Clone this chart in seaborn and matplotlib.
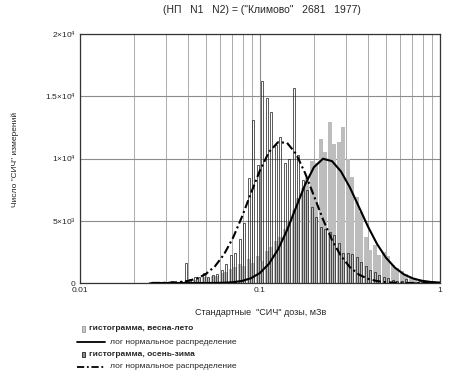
import numpy as np
import matplotlib
matplotlib.use('Agg')
import matplotlib.pyplot as plt
from matplotlib.ticker import LogLocator, NullFormatter
from matplotlib.lines import Line2D
from matplotlib.patches import Rectangle
import seaborn as sns

# histogram bins: equal steps in log10(dose), from 10^-1.7 to 10^0
bin_lo, bin_hi, n_bins = -1.7, 0.0, 68

# counts per bin, spring-summer (light gray bars)
counts_spring = [0, 0, 0, 0, 0, 0, 0, 50, 0, 80,
                 100, 150, 200, 250, 400, 450, 400, 550, 600, 800,
                 900, 1100, 1300, 1500, 1400, 1900, 1600, 2200, 1800, 2600,
                 2900, 3400, 3700, 4300, 5000, 5900, 6800, 7600, 8400, 9800,
                 9600, 11560, 10500, 12930, 11160, 11320, 12530, 9960, 8500, 6900,
                 5700, 3700, 2650, 3050, 2250, 2500, 2200, 1450, 1200, 1000,
                 700, 400, 300, 240, 200, 150, 150, 100]

# counts per bin, autumn-winter (outlined bars)
counts_autumn = [0, 0, 0, 50, 0, 80, 100, 80, 150, 120,
                 200, 1600, 300, 480, 500, 800, 500, 640, 700, 1040,
                 1500, 2250, 2400, 3500, 4800, 8400, 13100, 9500, 16200, 14900,
                 13700, 11100, 11700, 9600, 10000, 15700, 10300, 8300, 7500, 6100,
                 5300, 4500, 4300, 4100, 3850, 3200, 2400, 2400, 2300, 2100,
                 1700, 1400, 1040, 900, 640, 500, 400, 240, 200, 150,
                 300, 100, 80, 150, 60, 50, 100, 40]

# log-normal fits
curve_dose = [0.0251, 0.0282, 0.0316, 0.0355, 0.0398, 0.0447, 0.0501, 0.0562,
              0.0631, 0.0708, 0.0794, 0.0891, 0.1, 0.1122, 0.1259, 0.1413,
              0.1585, 0.1778, 0.1995, 0.2239, 0.2512, 0.2818, 0.3162, 0.3548,
              0.3981, 0.4467, 0.5012, 0.5623, 0.6310, 0.7079, 0.7943, 0.8913, 1.0]
curve_spring = [0, 0, 0, 0, 0, 0, 2, 7,
                23, 65, 166, 385, 810, 1550, 2690, 4240,
                6070, 7880, 9310, 9980, 9790, 8960, 7660, 6100,
                4530, 3140, 2030, 1230, 690, 365, 180, 82, 35]
curve_autumn = [4, 10, 29, 73, 171, 367, 730, 1340,
                2300, 3630, 5320, 7220, 9060, 10520, 11310, 11260,
                10380, 8850, 6990, 5110, 3450, 2170, 1260, 675,
                335, 155, 65, 26, 9, 3, 1, 0, 0]

y_ticks = [0, 5000, 10000, 15000, 20000]
y_labels = ['0', r'$5{\times}10^3$', r'$1{\times}10^4$', r'$1.5{\times}10^4$', r'$2{\times}10^4$']
x_ticks = [0.01, 0.1, 1]
x_labels = ['0.01', '0.1', '1']

sns.set_style('white')
plt.rcParams['font.family'] = ['Liberation Sans', 'DejaVu Sans']
plt.rcParams['mathtext.fontset'] = 'custom'
plt.rcParams['mathtext.rm'] = 'Liberation Sans'
plt.rcParams['mathtext.it'] = 'Liberation Sans'

fig = plt.figure(figsize=(4.63, 3.77), dpi=100)
ax = fig.add_axes([0.1728, 0.2493, 0.7775, 0.6605])
ax.set_xscale('log')

# bar geometry in log space
log_edges = np.linspace(bin_lo, bin_hi, n_bins + 1)
log_c = (log_edges[:-1] + log_edges[1:]) / 2
w = log_edges[1] - log_edges[0]

ss_left = 10 ** (log_c - 0.42 * w)
ss_width = 10 ** (log_c + 0.42 * w) - ss_left
ax.bar(ss_left, counts_spring, width=ss_width, align='edge',
       color='#bdbdbd', linewidth=0, zorder=2)

aw_left = 10 ** (log_c - 0.25 * w)
aw_width = 10 ** (log_c + 0.25 * w) - aw_left
ax.bar(aw_left, counts_autumn, width=aw_width, align='edge',
       facecolor='none', edgecolor='#1a1a1a', linewidth=0.5, zorder=3)

sns.lineplot(x=curve_dose, y=curve_spring, ax=ax, color='black', lw=1.5, zorder=4)
sns.lineplot(x=curve_dose, y=curve_autumn, ax=ax, color='black', lw=1.5, zorder=4,
             linestyle=(0, (4, 1.5, 1, 1.5)))

ax.set_xlim(0.01, 1)
ax.set_ylim(0, 20000)
ax.set_xticks(x_ticks)
ax.set_xticklabels(x_labels)
ax.xaxis.set_minor_locator(LogLocator(base=10, subs=range(2, 10)))
ax.xaxis.set_minor_formatter(NullFormatter())
ax.set_yticks(y_ticks)
ax.set_yticklabels(y_labels)
ax.tick_params(which='both', length=0, labelsize=6, pad=3)
ax.grid(True, which='major', axis='both', color='#8c8c8c', lw=0.8, zorder=0)
ax.grid(True, which='minor', axis='x', color='#ababab', lw=0.7, zorder=0)
ax.set_axisbelow(True)
for s in ax.spines.values():
    s.set_visible(True)
    s.set_color('#333333')
    s.set_linewidth(0.9)
ax.set_xlabel('')
ax.set_ylabel('')

fig.text(0.566, 0.973, '(НП   N1   N2) = ("Климово"   2681   1977)',
         ha='center', va='center', fontsize=7.5)
fig.text(0.032, 0.576, 'Число "СИЧ" измерений', rotation=90,
         ha='center', va='center', fontsize=6)
fig.text(0.563, 0.170, 'Стандартные  "СИЧ" дозы, мЗв',
         ha='center', va='center', fontsize=6.5)

# legend drawn below the plot
H, W = 377, 463
def fy(py):
    return 1 - py / H
def fx(px):
    return px / W

fig.add_artist(Rectangle((fx(82), fy(332)), 3 / W, 6 / H, facecolor='#c8c8c8',
                         edgecolor='#888888', lw=0.5, transform=fig.transFigure))
fig.text(fx(89), fy(328), 'гистограмма, весна-лето', fontsize=6,
         fontweight='bold', va='center')
fig.add_artist(Line2D([fx(77), fx(105)], [fy(342), fy(342)], color='black',
                      lw=1.3, transform=fig.transFigure))
fig.text(fx(110), fy(342), 'лог нормальное распределение', fontsize=6, va='center')
fig.add_artist(Rectangle((fx(82), fy(357)), 3 / W, 5 / H, facecolor='#909090',
                         edgecolor='black', lw=0.5, transform=fig.transFigure))
fig.text(fx(89), fy(354), 'гистограмма, осень-зима', fontsize=6,
         fontweight='bold', va='center')
fig.add_artist(Line2D([fx(77), fx(105)], [fy(367), fy(367)], color='black',
                      lw=1.3, linestyle=(0, (4, 1.5, 1, 1.5)),
                      transform=fig.transFigure))
fig.text(fx(110), fy(367), 'лог нормальное распределение', fontsize=6, va='center')

fig.savefig('out.png', dpi=100)
